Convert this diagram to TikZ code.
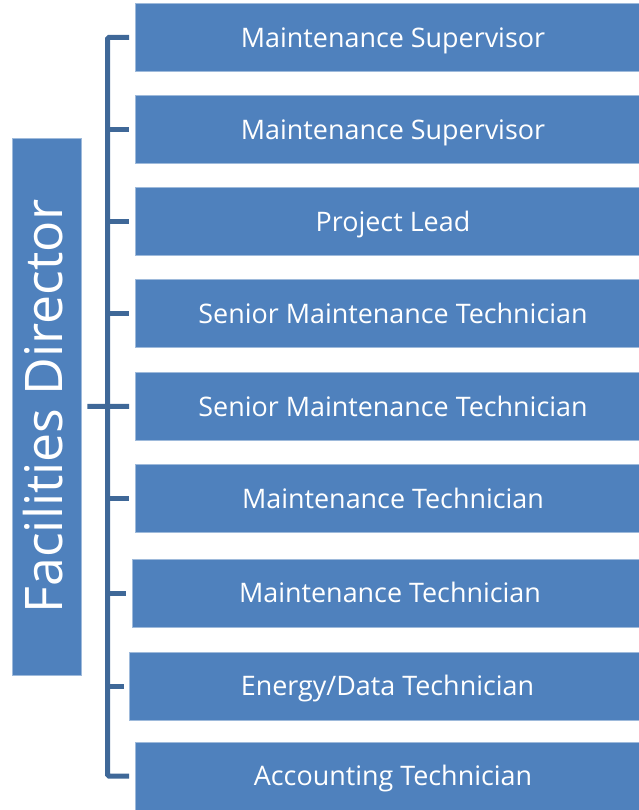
\documentclass[tikz,border=0pt]{standalone}
\usepackage{fontspec}
\setmainfont{Open Sans}
\usepackage{tikz}
\usetikzlibrary{positioning}
\definecolor{boxBlue}{HTML}{4F81BD}
\definecolor{lineBlue}{HTML}{3F6898}
\tikzstyle{role} = [rectangle, minimum width=516bp, minimum height=68bp, inner sep=0pt,
text height=19.5bp, text depth=0pt, text centered, draw=boxBlue!55!white, line width=0.6bp,
fill=boxBlue, text=white, font=\fontsize{27}{32}\selectfont]
\tikzstyle{director} = [rectangle, rotate=90, minimum width=537bp, minimum height=68.5bp,
inner sep=0pt, text height=32bp, text depth=0pt, text centered, draw=boxBlue!55!white,
line width=0.6bp, fill=boxBlue, text=white, font=\fontsize{52}{60}\selectfont]
\tikzstyle{bracketLine} = [line width=5bp, draw=lineBlue, rounded corners=1.5bp]

\begin{document}
\begin{tikzpicture}[x=1bp, y=1bp, node distance=92bp]
		\useasboundingbox (0,0) rectangle (639,810);
		%blocks
		\node[director](director) at (46.75,403.5){Facilities Director};
		\node[role](sup1) at (393,772.5){Maintenance Supervisor};
		\node[role, below of=sup1](sup2){Maintenance Supervisor};
		\node[role, below of=sup2](lead){Project Lead};
		\node[role, below of=lead](senior1){Senior Maintenance Technician};
		\node[role, below of=senior1, yshift=-1bp](senior2){Senior Maintenance Technician};
		\node[role, below of=senior2](tech1){Maintenance Technician};
		\node[role, below of=tech1, xshift=-3bp, yshift=-2.5bp](tech2){Maintenance Technician};
		\node[role, below of=tech2, xshift=-2.5bp, yshift=-1bp](energy){Energy/Data Technician};
		\node[role, below of=energy, xshift=5.5bp, yshift=2bp](account){Accounting Technician};
		\coordinate (spine) at (107.5,0);
		
		%lines
		\draw[bracketLine]([xshift=-5.5bp]sup1.west)--(spine |- sup1.west)--(spine |- account.west)--([xshift=-5.5bp]account.west);
		\draw[bracketLine](spine |- sup2.west)--([xshift=-5.5bp]sup2.west);
		\draw[bracketLine](spine |- lead.west)--([xshift=-5.5bp]lead.west);
		\draw[bracketLine](spine |- senior1.west)--([xshift=-5.5bp]senior1.west);
		\draw[bracketLine]([xshift=6bp]director.south)--([xshift=-5.5bp]senior2.west);
		\draw[bracketLine](spine |- tech1.west)--([xshift=-5.5bp]tech1.west);
		\draw[bracketLine](spine |- tech2.west)--([xshift=-5.5bp]tech2.west);
		\draw[bracketLine](spine |- energy.west)--([xshift=-5.5bp]energy.west);
	\end{tikzpicture}
\end{document}
